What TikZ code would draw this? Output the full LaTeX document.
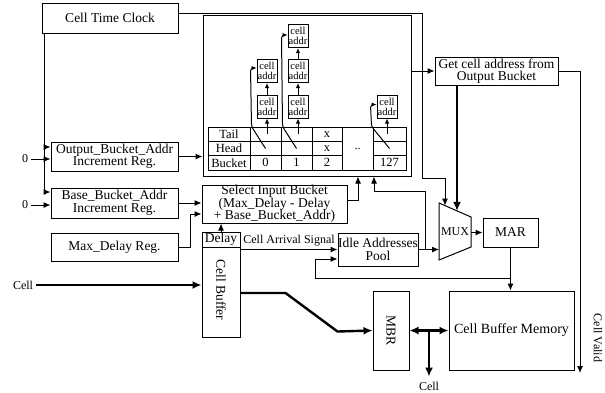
\documentclass[tikz,border=0pt]{standalone}
\usepackage{fontspec}
\setmainfont{Liberation Serif}
\usetikzlibrary{arrows.meta}

\begin{document}
\begin{tikzpicture}[x=1pt,y=-1pt,line join=miter,
  blk/.style={draw,line width=1pt,inner sep=0pt,align=center,font=\fontsize{13.5}{12.5}\selectfont},
  tcell/.style={draw,line width=1pt,inner sep=0pt,minimum width=#1,minimum height=14.33pt,font=\fontsize{12.5}{12}\selectfont},
  abox/.style={draw,line width=1pt,inner sep=0pt,minimum width=20pt,minimum height=23pt,align=center,font=\fontsize{10.5}{10}\selectfont},
  lbl/.style={inner sep=0pt,font=\fontsize{12}{12}\selectfont},
  wire/.style={line width=1pt},
  arr/.style={line width=1pt,-{Latex[length=7pt,width=6pt]}},
  sarr/.style={line width=1pt,-{Latex[length=5pt,width=4.5pt]}},
  fat/.style={line width=2.4pt,line join=round,-{Latex[length=9pt,width=8pt]}}]
\path[use as bounding box] (0,0) rectangle (605,392);
\node[blk,minimum width=136pt,minimum height=30pt] (clock) at (110,18) {Cell Time Clock};
\node[blk,minimum width=127pt,minimum height=29pt] (outreg) at (114.5,156.5) {Output\_Bucket\_Addr\\Increment Reg.};
\node[blk,minimum width=127pt,minimum height=30pt] (basereg) at (114.5,203) {Base\_Bucket\_Addr\\Increment Reg.};
\node[blk,minimum width=127pt,minimum height=28pt] (maxreg) at (114.5,247) {Max\_Delay Reg.};
\node[draw,line width=1pt,inner sep=0pt,minimum width=208pt,minimum height=161pt] (bigbox) at (307,95.5) {};
\node[blk,minimum width=123pt,minimum height=28pt] (getaddr) at (496.5,71) {Get cell address from\\Output Bucket};
\node[blk,minimum width=145pt,minimum height=38pt] (select) at (274.5,204) {Select Input Bucket\\(Max\_Delay - Delay\\+ Base\_Bucket\_Addr)};
\node[blk,minimum width=38pt,minimum height=15pt] (delay) at (221,239.5) {Delay};
\node[blk,minimum width=38pt,minimum height=90pt] (cellbuf) at (221,292) {};
\node[blk,draw=none,rotate=-90] (cbtxt) at (221,290) {Cell Buffer};
\node[blk,minimum width=80pt,minimum height=33pt] (idle) at (378,249.5) {Idle Addresses\\Pool};
\node[blk,minimum width=55pt,minimum height=29pt] (mar) at (510.5,232.5) {MAR};
\node[blk,minimum width=36pt,minimum height=79pt] (mbr) at (391,330.5) {};
\node[blk,draw=none,rotate=-90] (mbrtxt) at (391,330.5) {MBR};
\node[blk,minimum width=125pt,minimum height=79pt,font=\fontsize{14}{14}\selectfont] (cbm) at (511.5,330.5) {Cell Buffer Memory};

\coordinate (muxa) at (439,203);
\coordinate (muxb) at (471,217);
\coordinate (muxc) at (471,247);
\coordinate (muxd) at (439,260);
\coordinate (muxsel) at (445,205.6);
\coordinate (muxdat) at (457,210.9);
\draw[wire] (muxa) -- (muxb) -- (muxc) -- (muxd) -- cycle;
\node[lbl] (mux) at (455,232) {MUX};

\node[tcell=42pt] (lt) at (229,134.17) {Tail};
\node[tcell=42pt] (lh) at (229,148.5) {Head};
\node[tcell=42pt] (lb) at (229,162.83) {Bucket};
\foreach \n/\x/\w/\m in {0/265.5/31pt/{},1/296.5/31pt/{},2/327/30pt/x,127/389.5/33pt/{}}{
  \node[tcell=\w] (t\n) at (\x,134.17) {\m};
  \node[tcell=\w] (h\n) at (\x,148.5) {\m};
  \node[tcell=\w] (b\n) at (\x,162.83) {\n};
}
\node[draw,line width=1pt,inner sep=0pt,minimum width=31pt,minimum height=43pt,font=\fontsize{12}{12}\selectfont] (dots) at (357.5,148.5) {..};

\node[abox] (c0a) at (267,106.5) {cell\\addr};
\node[abox] (c0b) at (267,71) {cell\\addr};
\node[abox] (c1a) at (298,106.5) {cell\\addr};
\node[abox] (c1b) at (298,71) {cell\\addr};
\node[abox] (c1c) at (298,36) {cell\\addr};
\node[abox] (c127a) at (387,106.5) {cell\\addr};
\draw[sarr] (c0a) -- (c0b);
\draw[sarr] (c1a) -- (c1b);
\draw[sarr] (c1b) -- (c1c);
\draw[sarr] (c0a.south |- t0.center) -- (c0a.south);
\draw[sarr] (c1a.south |- t1.center) -- (c1a.south);
\draw[sarr] (c127a.south |- t127.center) -- (c127a.south);
\draw[sarr,rounded corners=3pt] (h0.center) -- ([xshift=2pt]t0.north west) -- ([xshift=1pt,yshift=3pt]t0.north west |- c0b.west) -- ([yshift=3pt]c0b.west);
\draw[sarr,rounded corners=3pt] (h1.center) -- ([xshift=2pt]t1.north west) -- ([xshift=1pt,yshift=1pt]t1.north west |- c1c.west) -- ([yshift=1pt]c1c.west);
\draw[sarr,rounded corners=3pt] (h127.center) -- ([xshift=-1pt]t127.north west) -- ([xshift=-2pt,yshift=2pt]t127.north west |- c127a.west) -- ([yshift=2pt]c127a.west);

\coordinate (bus) at ([xshift=3pt]clock.south west);
\coordinate (outin) at ([yshift=9.5pt]outreg.west);
\draw[arr] (bus) |- ([yshift=11pt]basereg.west);
\draw[arr] (bus |- outin) -- (outin);
\node[lbl] (zero1) at (25,159) {0};
\node[lbl] (zero2) at (25,205) {0};
\draw[arr] ([xshift=3pt]zero1.east) -- (zero1.east -| outreg.west);
\draw[arr] ([xshift=3pt]zero2.east) -- (zero2.east -| basereg.west);
\draw[arr] (outreg.east) -- (outreg.east -| bigbox.west);
\draw[arr] (basereg.east) -- (basereg.east -| select.west);
\draw[arr] (maxreg.east) -- ++(12,0) |- ([yshift=-10pt]select.west);
\draw[arr] ([yshift=4pt]select.east) -| ([xshift=51pt]bigbox.south);
\draw[arr] ([yshift=5pt]clock.east) -| ++(244,165) -| (muxsel);
\draw[fat] (getaddr.south -| muxdat) -- (muxdat);
\draw[arr] (getaddr.west -| bigbox.east) -- (getaddr.west);
\coordinate (valid) at (580,373);
\draw[arr] (getaddr.east) -| (valid);
\node[lbl,rotate=-90] (validlbl) at (598,338) {Cell Valid};
\draw[arr] (idle.east) -- (idle.east -| muxa);
\draw[arr] (idle.east) -| ++(7,-58.5) -| ([xshift=67pt]bigbox.south);
\draw[arr] (mar.west -| muxb) -- (mar.west);
\draw[arr] (mar.south) -- (mar.south |- cbm.north);
\draw[arr] (mar.south) |- ++(-195.5,31) |- ([yshift=-9.5pt]idle.west);
\draw[arr] (idle.west -| cellbuf.east) -- node[lbl,above=3pt] {Cell Arrival Signal} (idle.west);
\draw[arr] (delay.north) -- (delay.north |- select.south);
\node[lbl] (cellin) at (23,285) {Cell};
\draw[fat] ([xshift=3pt]cellin.east) -- (cellin.east -| cellbuf.west);
\draw[fat] ([yshift=-1pt]cellbuf.east) -- ++(45,0) -- ++(52,38.5) -- (mbr.west);
\draw[line width=2.4pt,{Latex[length=9pt,width=8pt]}-{Latex[length=9pt,width=8pt]}] (mbr.east) -- (cbm.west);
\node[lbl] (cellout) at (429,386) {Cell};
\draw[fat] (mbr.east -| cellout) -- ([yshift=5pt]cellout.north);
\end{tikzpicture}
\end{document}
